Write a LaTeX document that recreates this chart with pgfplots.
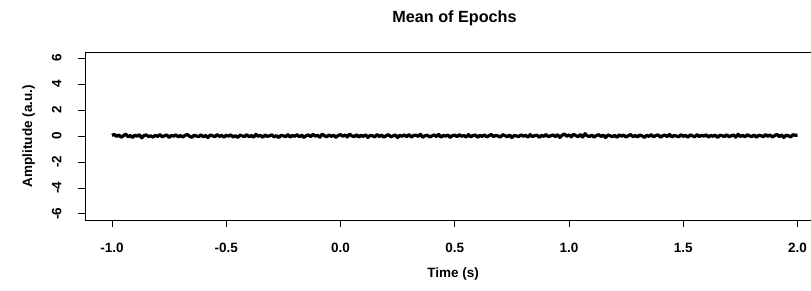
\documentclass[border=0pt]{standalone}
\usepackage{fontspec}
\setmainfont{Liberation Sans}
\usepackage{pgfplots}
\pgfplotsset{compat=1.18}
\begin{document}
\begin{tikzpicture}
\useasboundingbox (0pt,0pt) rectangle (811pt,290pt);
\begin{axis}[
  at={(85pt,70pt)}, anchor=south west,
  scale only axis, width=726pt, height=168pt,
  xmin=-1.118, xmax=2.059, ymin=-6.48, ymax=6.48,
  axis x line*=box, axis y line*=left,
  xtick pos=bottom, ytick pos=left,
  xtick={-1,-0.5,0,0.5,1,1.5,2},
  xticklabels={-1.0,-0.5,0.0,0.5,1.0,1.5,2.0},
  ytick={-6,-4,-2,0,2,4,6},
  tick align=outside, major tick length=7pt,
  tick style={black, line width=0.7pt},
  axis line style={black, line width=0.7pt},
  /pgf/number format/assume math mode=true,
  ticklabel style={font=\fontsize{13.5}{15}\selectfont\bfseries},
  xticklabel style={anchor=base, yshift=-25.5pt},
  yticklabel style={xshift=-16.5pt, rotate=90, anchor=base},
  title={Mean of Epochs},
  title style={font=\fontsize{16.2}{18}\selectfont\bfseries, at={(0.509,1)}, anchor=base, yshift=23.5pt},
  xlabel={Time (s)},
  xlabel style={font=\fontsize{13.5}{15}\selectfont\bfseries, at={(0.507,0)}, anchor=base, yshift=-57pt},
  ylabel={Amplitude (a.u.)},
  ylabel style={font=\fontsize{13.5}{15}\selectfont\bfseries, at={(-0.073,0.5)}, anchor=base},
  clip=false,
]
\addplot[black, line width=3.2pt, line join=round] coordinates {
(-1.00,0.05)(-0.99,0.12)(-0.98,-0.03)(-0.97,0.08)(-0.96,-0.10)(-0.95,0.02)(-0.94,0.15)(-0.93,-0.06)(-0.92,0.04)(-0.91,-0.12)
(-0.90,0.07)(-0.89,-0.02)(-0.88,0.10)(-0.87,-0.14)(-0.86,0.03)(-0.85,0.09)(-0.84,-0.05)(-0.83,0.01)(-0.82,-0.09)(-0.81,0.06)
(-0.80,-0.04)(-0.79,0.11)(-0.78,-0.07)(-0.77,0.02)(-0.76,0.08)(-0.75,-0.11)(-0.74,0.04)(-0.73,-0.01)(-0.72,0.09)(-0.71,-0.06)
(-0.70,0.03)(-0.69,-0.08)(-0.68,0.05)(-0.67,0.12)(-0.66,-0.03)(-0.65,-0.10)(-0.64,0.06)(-0.63,0.00)(-0.62,-0.05)(-0.61,0.10)
(-0.60,-0.07)(-0.59,0.04)(-0.58,-0.12)(-0.57,0.08)(-0.56,0.02)(-0.55,-0.06)(-0.54,0.11)(-0.53,-0.03)(-0.52,0.05)(-0.51,-0.09)
(-0.50,0.06)(-0.49,-0.01)(-0.48,0.09)(-0.47,-0.08)(-0.46,0.03)(-0.45,-0.11)(-0.44,0.07)(-0.43,0.01)(-0.42,-0.04)(-0.41,0.10)
(-0.40,-0.06)(-0.39,0.04)(-0.38,-0.09)(-0.37,0.13)(-0.36,-0.02)(-0.35,0.05)(-0.34,-0.10)(-0.33,0.08)(-0.32,-0.03)(-0.31,0.02)
(-0.30,0.09)(-0.29,-0.07)(-0.28,0.03)(-0.27,-0.12)(-0.26,0.06)(-0.25,0.01)(-0.24,-0.05)(-0.23,0.11)(-0.22,-0.08)(-0.21,0.04)
(-0.20,-0.02)(-0.19,0.10)(-0.18,-0.06)(-0.17,0.07)(-0.16,-0.11)(-0.15,0.03)(-0.14,0.08)(-0.13,-0.04)(-0.12,0.12)(-0.11,-0.01)
(-0.10,0.05)(-0.09,-0.09)(-0.08,0.14)(-0.07,0.02)(-0.06,-0.06)(-0.05,0.09)(-0.04,-0.03)(-0.03,0.06)(-0.02,-0.10)(-0.01,0.04)
(0.00,0.11)(0.01,-0.02)(0.02,0.08)(0.03,-0.07)(0.04,0.15)(0.05,0.01)(0.06,-0.05)(0.07,0.10)(0.08,-0.08)(0.09,0.06)
(0.10,-0.03)(0.11,0.09)(0.12,-0.11)(0.13,0.05)(0.14,0.02)(0.15,-0.07)(0.16,0.12)(0.17,-0.04)(0.18,0.07)(0.19,-0.09)
(0.20,0.03)(0.21,0.10)(0.22,-0.06)(0.23,0.01)(0.24,0.08)(0.25,-0.12)(0.26,0.05)(0.27,-0.02)(0.28,0.09)(0.29,-0.05)
(0.30,0.11)(0.31,-0.08)(0.32,0.04)(0.33,0.07)(0.34,-0.03)(0.35,0.13)(0.36,-0.10)(0.37,0.02)(0.38,0.06)(0.39,-0.07)
(0.40,0.00)(0.41,0.09)(0.42,-0.04)(0.43,0.12)(0.44,-0.09)(0.45,0.05)(0.46,-0.01)(0.47,0.08)(0.48,-0.11)(0.49,0.03)
(0.50,0.07)(0.51,-0.05)(0.52,0.10)(0.53,-0.02)(0.54,0.04)(0.55,-0.08)(0.56,0.11)(0.57,-0.06)(0.58,0.03)(0.59,0.08)
(0.60,-0.10)(0.61,0.05)(0.62,-0.03)(0.63,0.09)(0.64,-0.07)(0.65,0.02)(0.66,0.12)(0.67,-0.05)(0.68,0.06)(0.69,-0.01)
(0.70,-0.08)(0.71,0.10)(0.72,0.03)(0.73,-0.06)(0.74,0.08)(0.75,-0.12)(0.76,0.04)(0.77,0.01)(0.78,-0.04)(0.79,0.09)
(0.80,-0.02)(0.81,0.06)(0.82,-0.09)(0.83,0.11)(0.84,-0.05)(0.85,0.03)(0.86,0.07)(0.87,-0.10)(0.88,0.05)(0.89,-0.03)
(0.90,0.12)(0.91,-0.06)(0.92,0.02)(0.93,0.08)(0.94,-0.04)(0.95,0.10)(0.96,-0.11)(0.97,0.06)(0.98,0.16)(0.99,-0.02)
(1.00,0.09)(1.01,-0.07)(1.02,0.14)(1.03,0.03)(1.04,-0.05)(1.05,0.11)(1.06,-0.08)(1.07,0.18)(1.08,0.01)(1.09,-0.04)
(1.10,0.07)(1.11,-0.09)(1.12,0.04)(1.13,0.10)(1.14,-0.03)(1.15,0.06)(1.16,-0.12)(1.17,0.08)(1.18,0.02)(1.19,-0.06)
(1.20,0.05)(1.21,-0.10)(1.22,0.09)(1.23,-0.02)(1.24,0.07)(1.25,-0.08)(1.26,0.03)(1.27,0.11)(1.28,-0.05)(1.29,0.04)
(1.30,-0.07)(1.31,0.08)(1.32,0.01)(1.33,-0.11)(1.34,0.06)(1.35,-0.03)(1.36,0.10)(1.37,-0.06)(1.38,0.04)(1.39,0.09)
(1.40,-0.09)(1.41,0.02)(1.42,0.07)(1.43,-0.04)(1.44,0.12)(1.45,-0.08)(1.46,0.05)(1.47,0.00)(1.48,-0.06)(1.49,0.10)
(1.50,-0.03)(1.51,0.06)(1.52,-0.10)(1.53,0.08)(1.54,0.02)(1.55,-0.07)(1.56,0.11)(1.57,-0.04)(1.58,0.05)(1.59,-0.01)
(1.60,0.09)(1.61,-0.08)(1.62,0.04)(1.63,-0.02)(1.64,0.07)(1.65,-0.11)(1.66,0.06)(1.67,0.03)(1.68,-0.05)(1.69,0.10)
(1.70,-0.06)(1.71,0.02)(1.72,0.08)(1.73,-0.09)(1.74,0.13)(1.75,-0.03)(1.76,0.05)(1.77,-0.07)(1.78,0.10)(1.79,0.01)
(1.80,-0.04)(1.81,0.07)(1.82,-0.10)(1.83,0.06)(1.84,0.03)(1.85,-0.06)(1.86,0.11)(1.87,-0.02)(1.88,0.08)(1.89,-0.08)
(1.90,0.04)(1.91,0.12)(1.92,-0.05)(1.93,0.09)(1.94,-0.11)(1.95,0.06)(1.96,0.02)(1.97,-0.07)(1.98,0.10)(1.99,0.05)
(2.00,0.08)
};
\end{axis}
\end{tikzpicture}
\end{document}
